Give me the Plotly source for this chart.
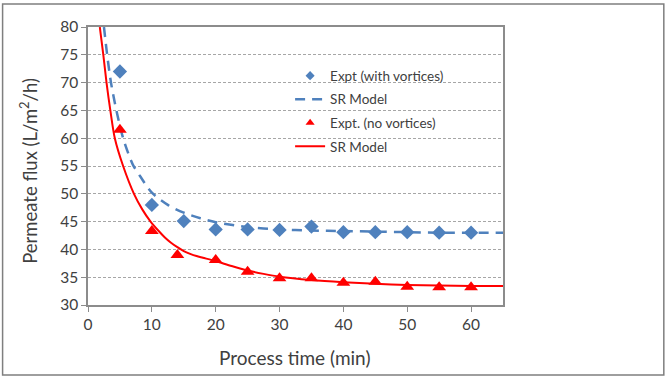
import plotly.graph_objects as go

# Experimental data
t_vort = [5, 10, 15, 20, 25, 30, 35, 40, 45, 50, 55, 60]
flux_vort = [72, 48, 45.1, 43.6, 43.6, 43.5, 44.1, 43.1, 43.1, 43.1, 43.0, 43.0]

t_novort = [5, 10, 14, 20, 25, 30, 35, 40, 45, 50, 55, 60]
flux_novort = [61.5, 43.3, 39.0, 38.1, 36.0, 34.8, 34.8, 34.0, 34.2, 33.3, 33.2, 33.2]

# SR model curves
t_model_vort = [2.5, 3.0, 3.6, 4.45, 5.5, 7.0, 8.2, 10.0, 12.5, 15, 17.6, 20, 25, 30, 35, 40, 45, 50, 55, 60, 65]
flux_model_vort = [80, 75, 70, 65, 60, 55.3, 53.1, 50.2, 48.0, 46.6, 45.6, 44.9, 44.0, 43.6, 43.4, 43.3, 43.2, 43.1, 43.0, 43.0, 43.0]

t_model_novort = [1.85, 2.4, 2.9, 3.5, 4.2, 5.5, 7.2, 8.5, 9.8, 11, 12, 13, 14, 15, 16, 17, 18, 20, 22.5, 25, 27.5, 30, 35, 40, 45, 50, 55, 60, 65]
flux_model_novort = [80, 75, 70, 65, 60, 55, 50, 47.2, 45.0, 43.4, 42.2, 41.2, 40.4, 39.7, 39.2, 38.8, 38.5, 37.9, 37.0, 36.2, 35.6, 35.1, 34.5, 34.1, 33.8, 33.6, 33.5, 33.4, 33.4]

x_ticks = [0, 10, 20, 30, 40, 50, 60]
y_ticks = [30, 35, 40, 45, 50, 55, 60, 65, 70, 75, 80]

BLUE = "#4f81bd"
RED = "#ff0000"
TXT = "#404040"
FONT = "Lato"

fig = go.Figure()
fig.add_trace(go.Scatter(x=t_vort, y=flux_vort, mode="markers", showlegend=False,
                         marker=dict(symbol="diamond", size=11, color=BLUE)))
fig.add_trace(go.Scatter(x=t_model_vort, y=flux_model_vort, mode="lines", showlegend=False,
                         line=dict(color=BLUE, width=2.5, dash="10px,7px", shape="spline", smoothing=0.8)))
fig.add_trace(go.Scatter(x=t_novort, y=flux_novort, mode="markers", showlegend=False,
                         marker=dict(symbol="triangle-up", size=12, color=RED)))
fig.add_trace(go.Scatter(x=t_model_novort, y=flux_model_novort, mode="lines", showlegend=False,
                         line=dict(color=RED, width=2, shape="spline", smoothing=0.8)))

# legend entries (smaller symbols, as in the reference)
fig.add_trace(go.Scatter(x=[None], y=[None], mode="markers", name="Expt (with vortices)",
                         marker=dict(symbol="diamond", size=7, color=BLUE), legendgroup="a"))
fig.add_trace(go.Scatter(x=[None], y=[None], mode="lines", name="SR Model",
                         line=dict(color=BLUE, width=2.5, dash="10px,7px"), legendgroup="b"))
fig.add_trace(go.Scatter(x=[None], y=[None], mode="markers", name="Expt. (no vortices)",
                         marker=dict(symbol="triangle-up", size=8, color=RED), legendgroup="c"))
fig.add_trace(go.Scatter(x=[None], y=[None], mode="lines", name="SR Model",
                         line=dict(color=RED, width=2), legendgroup="d"))

fig.update_layout(
    width=672, height=377,
    margin=dict(l=87.5, r=169, t=27, b=72),
    paper_bgcolor="white", plot_bgcolor="white",
    font=dict(family=FONT, color=TXT),
    showlegend=True,
    legend=dict(x=0.487, y=0.88, xanchor="left", yanchor="top",
                bgcolor="rgba(0,0,0,0)", font=dict(size=13.5, color=TXT, family=FONT),
                tracegroupgap=3, traceorder="grouped"),
    xaxis=dict(range=[0, 65], tickvals=x_ticks, showgrid=False, zeroline=False,
               showline=True, linecolor="#8c8c8c", linewidth=1.5, mirror=True,
               ticks="outside", ticklen=5, tickcolor="#8c8c8c",
               tickfont=dict(size=15.5, color=TXT)),
    yaxis=dict(range=[30, 80], tickvals=y_ticks, showgrid=True, gridcolor="#a6a6a6",
               griddash="3px,2px", gridwidth=1, zeroline=False,
               showline=True, linecolor="#8c8c8c", linewidth=1.5, mirror=True,
               ticks="outside", ticklen=5, tickcolor="#8c8c8c",
               tickfont=dict(size=15.5, color=TXT)),
    annotations=[
        dict(text="Process time (min)", xref="paper", yref="paper", x=0.4977, y=-0.1906,
             xanchor="center", yanchor="middle", showarrow=False, font=dict(size=19, color=TXT)),
        dict(text="Permeate flux (L/m<sup>2</sup>/h)", xref="paper", yref="paper", x=-0.145, y=0.482,
             xanchor="center", yanchor="middle", textangle=-90, showarrow=False,
             font=dict(size=18.5, color=TXT)),
    ],
    shapes=[dict(type="rect", xref="paper", yref="paper",
                 x0=-0.2058, x1=1.3875, y0=-0.2518, y1=1.0827,
                 line=dict(color="#7f7f7f", width=1.5), layer="below")],
)

fig.write_html("out.html")
